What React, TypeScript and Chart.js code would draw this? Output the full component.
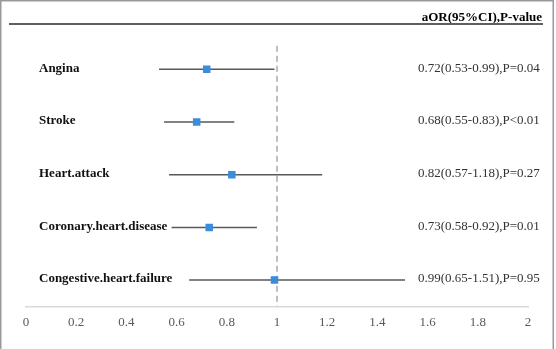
import React, { useEffect, useRef } from "react";
import { Chart, registerables } from "chart.js";

Chart.register(...registerables);

const categories = [
  "Angina",
  "Stroke",
  "Heart.attack",
  "Coronary.heart.disease",
  "Congestive.heart.failure",
];
const oddsRatios = [0.72, 0.68, 0.82, 0.73, 0.99];
const lowerCI = [0.53, 0.55, 0.57, 0.58, 0.65];
const upperCI = [0.99, 0.83, 1.18, 0.92, 1.51];
const resultTexts = [
  "0.72(0.53-0.99),P=0.04",
  "0.68(0.55-0.83),P<0.01",
  "0.82(0.57-1.18),P=0.27",
  "0.73(0.58-0.92),P=0.01",
  "0.99(0.65-1.51),P=0.95",
];
const headerText = "aOR(95%CI),P-value";
const xMin = 0;
const xMax = 2;
const xStep = 0.2;
const refValue = 1;

const SERIF = "'Liberation Serif', 'Times New Roman', serif";

export default function App() {
  const ref = useRef<HTMLCanvasElement | null>(null);

  useEffect(() => {
    document.body.style.margin = "0";
    const canvas = ref.current;
    if (!canvas) return;

    const ciSets = categories.map((c, i) => ({
      type: "scatter" as const,
      label: c + " CI",
      data: [
        { x: lowerCI[i], y: i },
        { x: upperCI[i], y: i },
      ],
      showLine: true,
      borderColor: "#595959",
      borderWidth: 1.5,
      pointRadius: 0,
      order: 2,
    }));

    const refSet = {
      type: "scatter" as const,
      label: "ref",
      data: [
        { x: refValue, y: -0.45 },
        { x: refValue, y: categories.length - 0.5 },
      ],
      showLine: true,
      borderColor: "#bfbfbf",
      borderWidth: 2,
      borderDash: [6, 4],
      pointRadius: 0,
      order: 3,
    };

    const pointSet = {
      type: "scatter" as const,
      label: "aOR",
      data: oddsRatios.map((v, i) => ({ x: v, y: i })),
      pointStyle: "rect",
      pointRadius: 5.3,
      pointBorderWidth: 0,
      backgroundColor: "#3b8ddb",
      borderColor: "#3b8ddb",
      order: 1,
    };

    const textPlugin = {
      id: "forestText",
      afterDraw(chart: any) {
        const ctx = chart.ctx;
        const y = chart.scales.y;
        ctx.save();
        // frame
        ctx.strokeStyle = "#999999";
        ctx.lineWidth = 1.5;
        ctx.beginPath();
        ctx.moveTo(0.75, 349);
        ctx.lineTo(0.75, 0.75);
        ctx.lineTo(553.25, 0.75);
        ctx.lineTo(553.25, 349);
        ctx.stroke();
        // header
        ctx.fillStyle = "#000";
        ctx.font = "bold 13px " + SERIF;
        ctx.textAlign = "right";
        ctx.textBaseline = "alphabetic";
        ctx.fillText(headerText, 542, 21);
        ctx.strokeStyle = "#5f5f5f";
        ctx.lineWidth = 2.2;
        ctx.beginPath();
        ctx.moveTo(9, 24);
        ctx.lineTo(543, 24);
        ctx.stroke();
        // row labels
        categories.forEach((c, i) => {
          const py = y.getPixelForValue(i);
          ctx.textBaseline = "middle";
          ctx.textAlign = "left";
          ctx.fillStyle = "#111";
          ctx.font = "bold 13px " + SERIF;
          ctx.fillText(c, 39, py - 1);
          ctx.fillStyle = "#333";
          ctx.font = "13px " + SERIF;
          ctx.fillText(resultTexts[i], 418, py - 1);
        });
        ctx.restore();
      },
    };

    const chart = new Chart(canvas, {
      type: "scatter",
      data: { datasets: [...ciSets, refSet, pointSet] as any },
      options: {
        animation: false,
        responsive: false,
        maintainAspectRatio: false,
        layout: { padding: { top: 43, left: 26, right: 28, bottom: 11 } },
        plugins: {
          legend: { display: false },
          tooltip: { enabled: false },
        },
        scales: {
          x: {
            type: "linear",
            min: xMin,
            max: xMax,
            ticks: {
              stepSize: xStep,
              padding: 8,
              color: "#595959",
              font: { family: SERIF, size: 13 },
              callback: (v: any) => String(Math.round(Number(v) * 10) / 10),
            },
            grid: { display: false, drawTicks: false },
            border: { display: true, color: "#d9d9d9", width: 1.5 },
          },
          y: {
            type: "linear",
            min: -0.5,
            max: categories.length - 0.5,
            reverse: true,
            display: false,
          },
        },
      },
      plugins: [textPlugin],
    } as any);

    return () => chart.destroy();
  }, []);

  return (
    <div style={{ width: 556, height: 349, background: "#fff" }}>
      <canvas ref={ref} width={556} height={349} style={{ width: 556, height: 349, display: "block" }} />
    </div>
  );
}
